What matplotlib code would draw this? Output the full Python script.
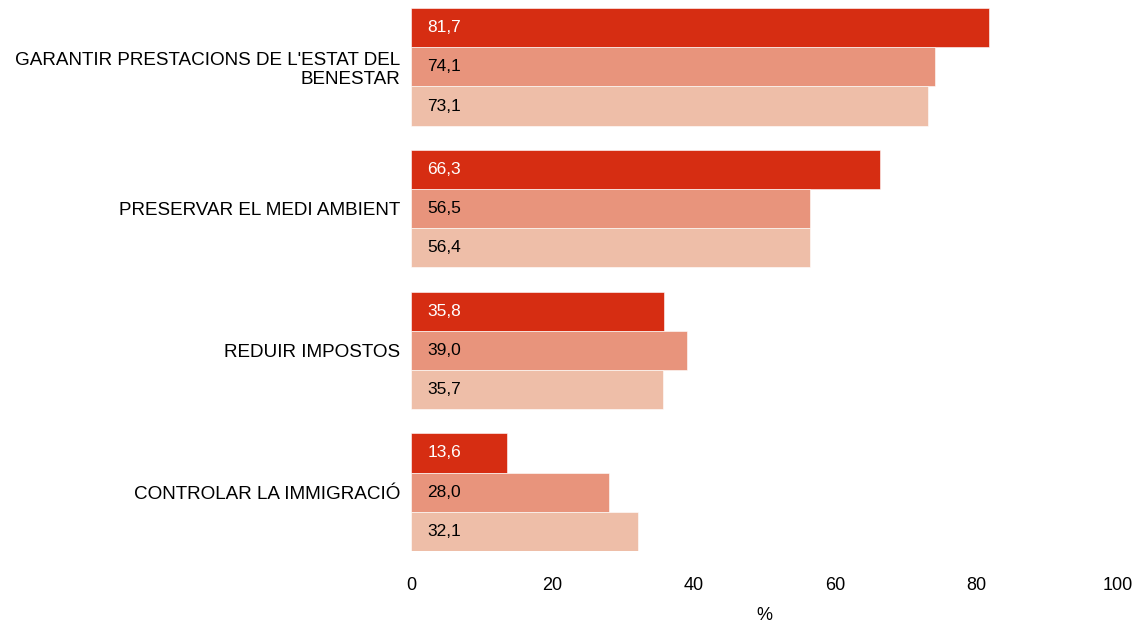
import matplotlib.pyplot as plt
import numpy as np

plt.rcParams['font.family'] = ['Liberation Sans', 'DejaVu Sans']

categories = ["GARANTIR PRESTACIONS DE L'ESTAT DEL\nBENESTAR",
              "PRESERVAR EL MEDI AMBIENT",
              "REDUIR IMPOSTOS",
              "CONTROLAR LA IMMIGRACIÓ"]
serie1 = [81.7, 66.3, 35.8, 13.6]
serie2 = [74.1, 56.5, 39.0, 28.0]
serie3 = [73.1, 56.4, 35.7, 32.1]

colors = ["#d62d12", "#e8947c", "#eebea8"]
text_colors = ["white", "black", "black"]
series = [serie1, serie2, serie3]

fig = plt.figure(figsize=(11.38, 6.22), dpi=100)
ax = fig.add_axes([411 / 1138, 1 - 551 / 622, 707 / 1138, 543 / 622])

h = 0.2767
y = np.arange(len(categories))
for i, vals in enumerate(series):
    pos = y + (i - 1) * h
    ax.barh(pos, vals, height=h, color=colors[i], edgecolor="white", linewidth=0.4)
    for p, v in zip(pos, vals):
        ax.text(2.3, p, f"{v:.1f}".replace(".", ","), va="center", ha="left",
                color=text_colors[i], fontsize=12.5)

ax.set_ylim(3 + 1.5 * h, -1.5 * h)
ax.set_xlim(0, 100)
ax.set_yticks(y)
ax.set_yticklabels(categories, fontsize=13.6, linespacing=1.2)
ax.set_xticks([0, 20, 40, 60, 80, 100])
ax.tick_params(axis="x", length=0, pad=19, labelsize=13)
ax.tick_params(axis="y", length=0, pad=8)
for s in ax.spines.values():
    s.set_visible(False)
ax.set_xlabel("%", fontsize=13, labelpad=9)

fig.savefig("out.png", dpi=100)
